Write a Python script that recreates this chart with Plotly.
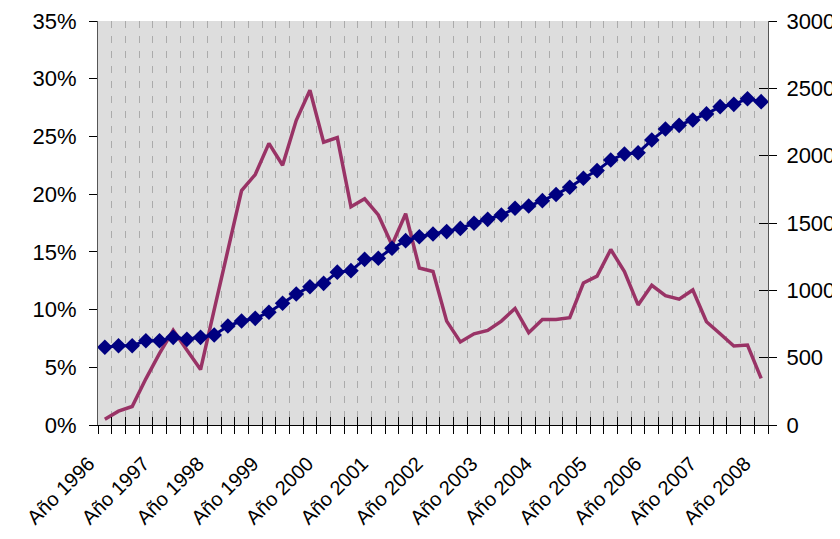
import plotly.graph_objects as go

# ---- data ----
years = ["Año 1996", "Año 1997", "Año 1998", "Año 1999", "Año 2000", "Año 2001",
         "Año 2002", "Año 2003", "Año 2004", "Año 2005", "Año 2006", "Año 2007", "Año 2008"]

pct_values = [0.5, 1.2, 1.6, 4.0, 6.2, 8.2, 6.5, 4.8, 10.0, 15.2,
              20.3, 21.7, 24.4, 22.5, 26.4, 29.0, 24.5, 24.9, 18.9, 19.6,
              18.2, 15.6, 18.3, 13.6, 13.3, 9.0, 7.2, 7.9, 8.2, 9.0,
              10.1, 8.0, 9.15, 9.15, 9.3, 12.3, 12.9, 15.2, 13.3, 10.4,
              12.1, 11.2, 10.9, 11.7, 8.95, 7.9, 6.84, 6.93, 4.04]

count_values = [577, 589, 589, 626, 626, 651, 636, 651, 668, 735,
                772, 792, 837, 904, 973, 1027, 1052, 1135, 1146, 1230,
                1238, 1312, 1369, 1398, 1418, 1436, 1460, 1498, 1527, 1559,
                1609, 1626, 1666, 1712, 1765, 1832, 1889, 1968, 2012, 2022,
                2116, 2198, 2225, 2265, 2310, 2364, 2381, 2423, 2401]

n = len(count_values)
xs = list(range(n))
label_pos = list(range(0, n, 4))
boundaries = [i - 0.5 for i in range(n + 1)]

PURPLE = "#993366"
NAVY = "#000080"
FONT = "Liberation Sans, Arial, sans-serif"

fig = go.Figure()

fig.add_trace(go.Scatter(
    x=xs, y=[v / 100 for v in pct_values], mode="lines",
    line=dict(color=PURPLE, width=3.5), xaxis="x", yaxis="y",
    showlegend=False, hoverinfo="skip"))

fig.add_trace(go.Scatter(
    x=xs, y=count_values, mode="lines+markers",
    line=dict(color=NAVY, width=3),
    marker=dict(symbol="diamond", size=12, color=NAVY),
    xaxis="x", yaxis="y2", showlegend=False, hoverinfo="skip"))

# empty helper traces so the extra tick-only axes are drawn
fig.add_trace(go.Scatter(x=[], y=[], xaxis="x2", yaxis="y", showlegend=False))
fig.add_trace(go.Scatter(x=[], y=[], xaxis="x", yaxis="y3", showlegend=False))

fig.update_layout(
    width=832, height=531,
    margin=dict(l=90, r=72, t=13, b=114),
    paper_bgcolor="white",
    plot_bgcolor="#DDDDDD",
    font=dict(family=FONT, color="black"),
    xaxis=dict(
        range=[-0.5, n - 0.5], automargin=False,
        tickmode="array", tickvals=label_pos, ticktext=years,
        ticks="", tickangle=-45,
        tickfont=dict(size=20, family=FONT, color="black"),
        ticklabelstandoff=18, ticklabelshift=-16,
        showgrid=False, zeroline=False,
        showline=True, linecolor="black", linewidth=1,
        minor=dict(tickmode="array", tickvals=boundaries, ticks="outside",
                   ticklen=8, tickwidth=1, tickcolor="black",
                   showgrid=True, gridcolor="#ABABAB", gridwidth=1,
                   griddash="7px,8px"),
    ),
    xaxis2=dict(
        overlaying="x", matches="x", anchor="y", side="bottom", automargin=False,
        tickmode="array", tickvals=boundaries, ticks="inside",
        ticklen=8, tickwidth=1, tickcolor="black",
        showticklabels=False, showgrid=False, zeroline=False, showline=False,
    ),
    yaxis=dict(
        range=[0, 0.35], tickmode="linear", tick0=0, dtick=0.05, automargin=False,
        tickformat=".0%", ticks="outside", ticklen=8, tickcolor="black",
        tickfont=dict(size=22, family=FONT, color="black"),
        ticklabelstandoff=8,
        showgrid=False, zeroline=False,
        showline=True, linecolor="#555555", linewidth=1,
    ),
    yaxis2=dict(
        overlaying="y", side="right", anchor="x", automargin=False,
        range=[0, 3000], tickmode="linear", tick0=0, dtick=500,
        ticks="outside", ticklen=8, tickcolor="black",
        tickfont=dict(size=22, family=FONT, color="black"),
        ticklabelstandoff=5,
        showgrid=False, zeroline=False,
        showline=True, linecolor="#555555", linewidth=1,
    ),
    yaxis3=dict(
        overlaying="y", side="right", anchor="x", automargin=False,
        range=[0, 3000], tickmode="linear", tick0=0, dtick=500,
        ticks="inside", ticklen=9, tickcolor="black",
        showticklabels=False, showgrid=False, zeroline=False, showline=False,
    ),
)

fig.write_html("out.html")
